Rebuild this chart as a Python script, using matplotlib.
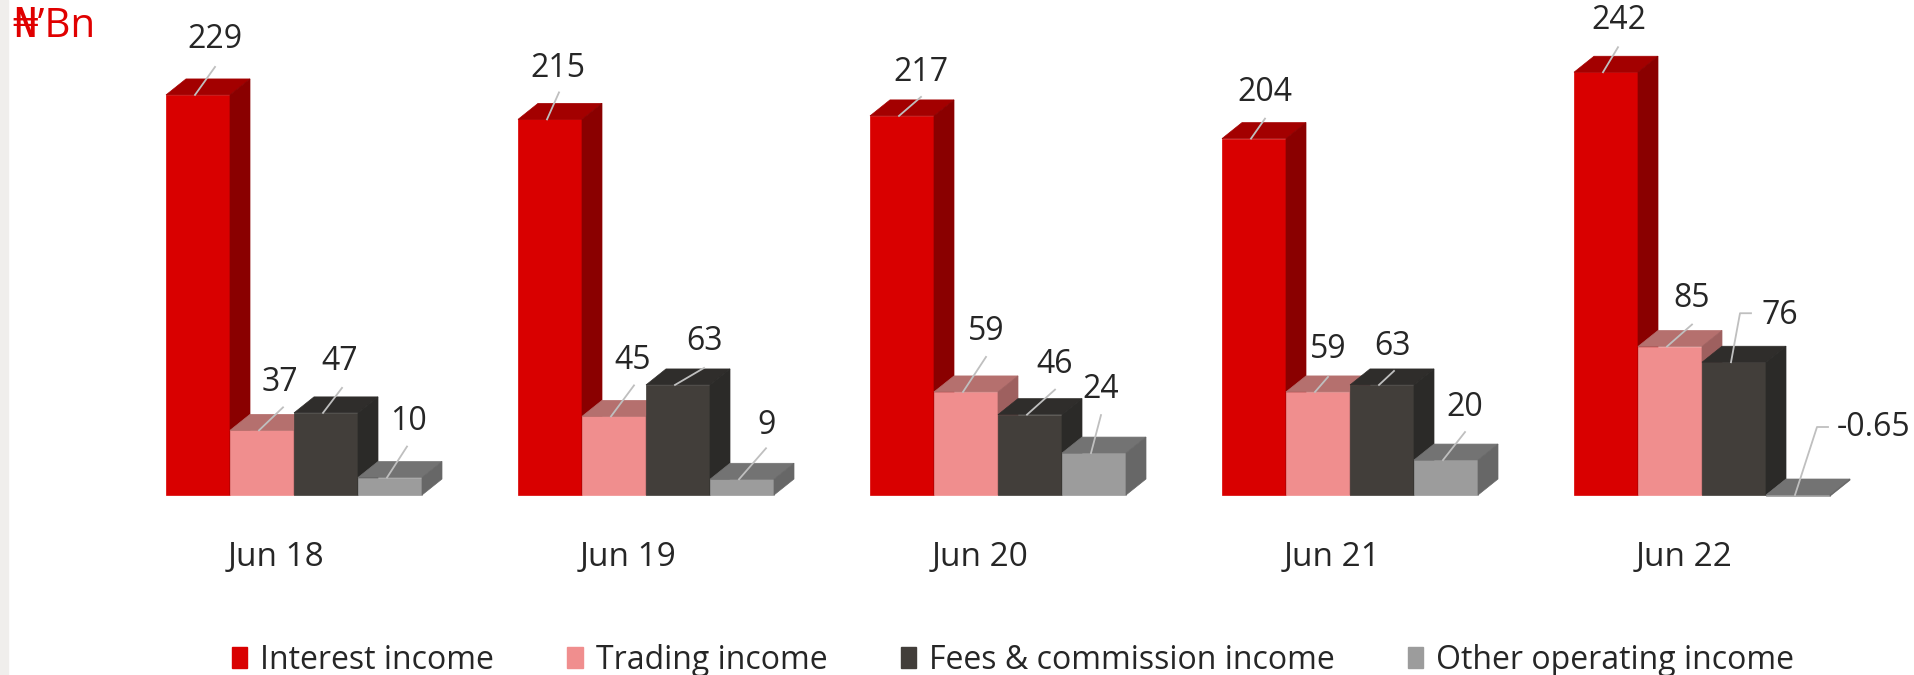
import numpy as np
import matplotlib.pyplot as plt
from matplotlib.patches import Polygon, Rectangle, Patch
from matplotlib.lines import Line2D
from matplotlib.transforms import IdentityTransform

plt.rcParams['font.family'] = ['Open Sans', 'DejaVu Sans']

periods = ['Jun 18', 'Jun 19', 'Jun 20', 'Jun 21', 'Jun 22']
series_names = ['Interest income', 'Trading income', 'Fees & commission income', 'Other operating income']
interest_income = [229, 215, 217, 204, 242]
trading_income = [37, 45, 59, 59, 85]
fees_income = [47, 63, 46, 63, 76]
other_income = [10, 9, 24, 20, -0.65]
series_values = [interest_income, trading_income, fees_income, other_income]

# face colours (front, top, side) per series
fronts = ['#D90000', '#F08E8E', '#423E3A', '#9C9C9C']
tops = ['#A30000', '#B5706E', '#2F2D2B', '#737373']
sides = ['#8A0000', '#9E605F', '#2B2A28', '#676767']
text_col = '#262626'
leader_col = '#BFBFBF'

# pixel geometry of the 3d look
px_per_group = 352.0
px_per_unit = 1.747
W = 64 / px_per_group
DX = 20 / px_per_group
DY = 16 / px_per_unit

fig = plt.figure(figsize=(19.15, 6.75), dpi=100)
ax = fig.add_axes([0, 0, 1, 1])
ax.set_xlim(-294 / px_per_group, (1915 - 294) / px_per_group)
ax.set_ylim(-180 / px_per_unit, 495 / px_per_unit)
ax.axis('off')

# left grey strip
fig.patches.append(Rectangle((0, 0), 8 / 1915, 1, transform=fig.transFigure,
                             color='#F0EEEC', zorder=0))

# label placement in pixels from the bar's front-top centre:
# (leader bend points, label position, alignment), one row per period
lbl_pos = [
    [([(17, 28)], (17, 55), 'center'), ([(21, 23)], (18, 48), 'center'),
     ([(16, 25)], (14, 51), 'center'), ([(17, 31)], (18, 56), 'center')],
    [([(9, 27)], (8, 51), 'center'), ([(20, 31)], (19, 56), 'center'),
     ([(26, 17)], (27, 43), 'center'), ([(24, 31)], (25, 54), 'center')],
    [([(19, 19)], (19, 43), 'center'), ([(20, 35)], (20, 60), 'center'),
     ([(25, 25)], (25, 50), 'center'), ([(7, 38)], (7, 64), 'center')],
    [([(11, 20)], (11, 46), 'center'), ([(10, 15)], (10, 42), 'center'),
     ([(12, 14)], (11, 38), 'center'), ([(19, 28)], (19, 53), 'center')],
    [([(12, 25)], (13, 52), 'center'), ([(22, 22)], (22, 48), 'center'),
     ([(6, 49), (17, 49)], (28, 47), 'left'), ([(19, 68), (30, 68)], (39, 67), 'left')],
]

z = 2
for i in range(len(periods)):
    for k, vals in enumerate(series_values):
        v = vals[i]
        x0 = i + (k - 2) * W
        x1 = x0 + W
        lo, hi = min(0, v), max(0, v)
        ax.add_patch(Rectangle((x0, lo), W, hi - lo, facecolor=fronts[k],
                               edgecolor=fronts[k], lw=0.5, zorder=z))
        ax.add_patch(Polygon([(x0, hi), (x1, hi), (x1 + DX, hi + DY), (x0 + DX, hi + DY)],
                             closed=True, facecolor=tops[k], edgecolor=tops[k], lw=0.5, zorder=z))
        ax.add_patch(Polygon([(x1, lo), (x1, hi), (x1 + DX, hi + DY), (x1 + DX, lo + DY)],
                             closed=True, facecolor=sides[k], edgecolor=sides[k], lw=0.5, zorder=z))
        z += 1

# value labels with leader lines
fig.canvas.draw()
for i in range(len(periods)):
    for k, vals in enumerate(series_values):
        v = vals[i]
        cx = i + (k - 1.5) * W
        path, txt, ha = lbl_pos[i][k]
        bx, by = ax.transData.transform((cx, max(0, v)))
        pts = [(-3, 0)] + path
        xs = [bx + p[0] for p in pts]
        ys = [by + p[1] for p in pts]
        ax.add_line(Line2D(xs, ys, transform=IdentityTransform(), color=leader_col,
                           lw=1.3, zorder=100))
        ax.annotate(f'{v:g}', xy=(cx, max(0, v)), xytext=txt,
                    textcoords='offset pixels', ha=ha, va='center',
                    fontsize=23, color=text_col, zorder=101)

# category labels
for i, p in enumerate(periods):
    ax.annotate(p, xy=(i, 0), xytext=(-18, -62), textcoords='offset pixels',
                ha='center', va='center', fontsize=24, color=text_col)

fig.text(12 / 1915, 1 - 27 / 675, '\u20a6\u2019Bn', color='#E00000', fontsize=29,
         ha='left', va='center')

handles = [Patch(facecolor=c, edgecolor=c) for c in fronts]
fig.legend(handles, series_names, loc='center', bbox_to_anchor=(0.529, 0.022),
           ncol=4, frameon=False, fontsize=23, handlelength=0.48, handleheight=0.62,
           handletextpad=0.4, columnspacing=2.3, labelcolor=text_col)

fig.savefig('out.png', dpi=100)
